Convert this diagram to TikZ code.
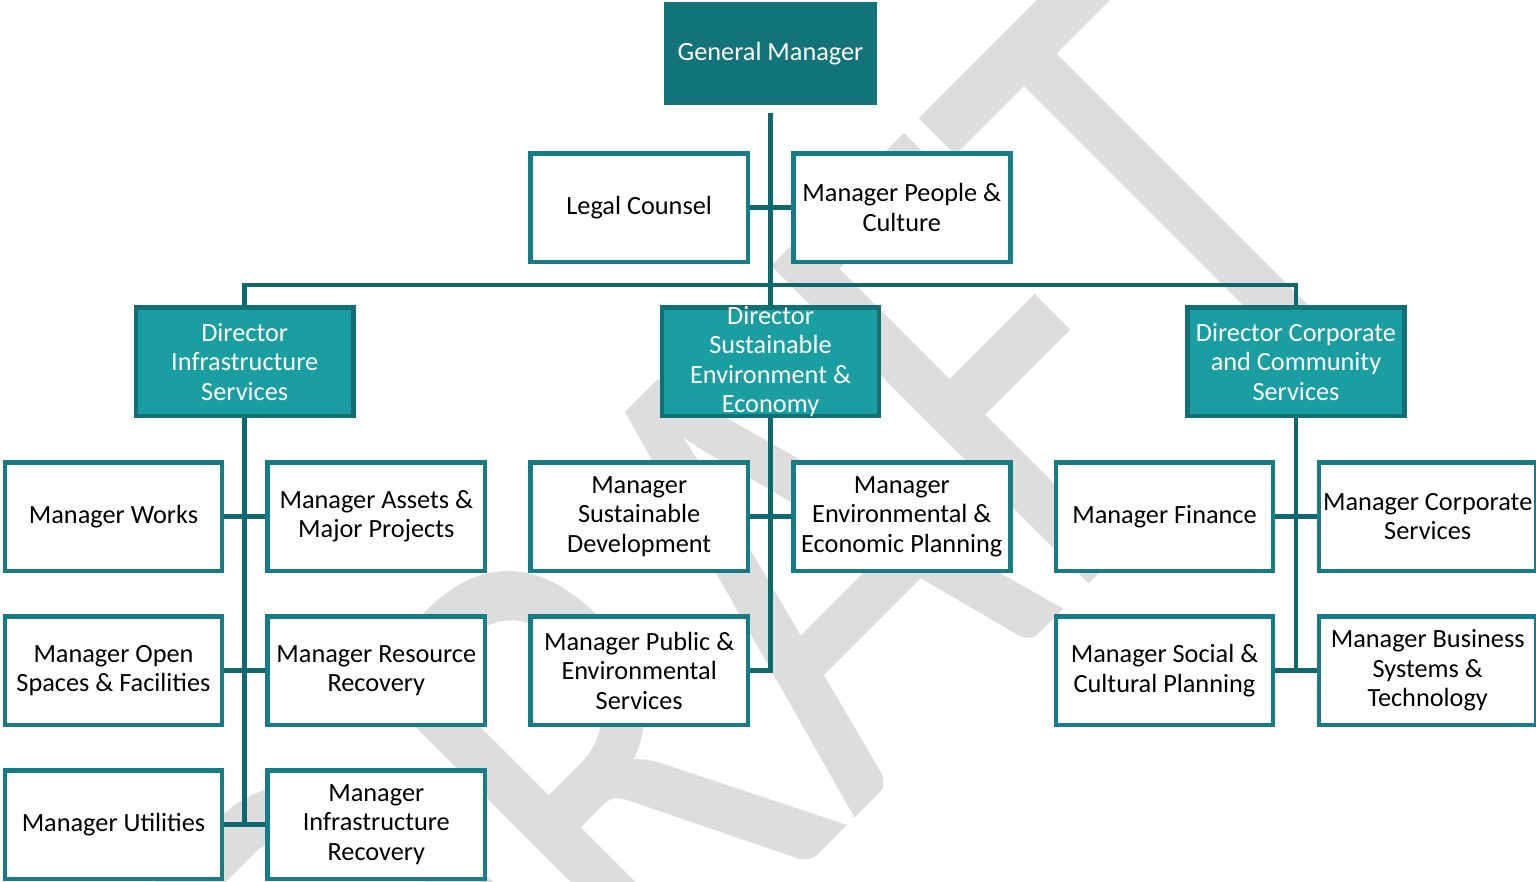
\documentclass[tikz,border=0pt]{standalone}
\usepackage{fontspec}
\setmainfont{Carlito}
\usetikzlibrary{backgrounds}
\definecolor{gmfill}{HTML}{12737B}
\definecolor{dirfill}{HTML}{1A9EA2}
\definecolor{dirline}{HTML}{117076}
\definecolor{mgrline}{HTML}{167C85}
\definecolor{connline}{HTML}{0E6870}
\definecolor{wmgray}{HTML}{DDDDDD}
\begin{document}
\begin{tikzpicture}[x=0.5pt,y=-0.5pt,
  box/.style={rectangle, minimum width=108.6pt, minimum height=54.3pt, inner sep=0pt,
    align=center, font=\fontsize{13.15}{14.75}\selectfont, line width=2.3pt},
  mgr/.style={box, draw=mgrline, fill=white, text=black},
  dir/.style={box, draw=dirline, fill=dirfill, text=white},
  dirtext/.style={inner sep=0pt, align=center, font=\fontsize{13.15}{14.75}\selectfont, text=white},
  gmbox/.style={box, fill=gmfill, text=white, minimum width=106.2pt, minimum height=51.65pt},
  conn/.style={draw=connline, line width=2.3pt, line join=miter}]
\useasboundingbox (0,0) rectangle (1536,882);

% top
\node[gmbox] (gm) at (770.5,53.3) {General Manager};
\node[mgr] (legal) at (639.2,207.7) {Legal Counsel};
\node[mgr] (people) at (901.8,207.7) {Manager People \&\\Culture};

% directors
\node[dir] (dinf) at (244.7,361.7) {Director\\Infrastructure\\Services};
\node[dir] (dsus) at (770.5,361.7) {};
\node[dirtext] (dsustxt) at (dsus.center) {Director\\Sustainable\\Environment \&\\Economy};
\node[dir] (dcor) at (1296,361.7) {Director Corporate\\and Community\\Services};

% infrastructure managers
\node[mgr] (works) at (113.5,516.5) {Manager Works};
\node[mgr] (assets) at (376.3,516.5) {Manager Assets \&\\Major Projects};
\node[mgr] (open) at (113.5,670.5) {Manager Open\\Spaces \& Facilities};
\node[mgr] (resource) at (376.3,670.5) {Manager Resource\\Recovery};
\node[mgr] (util) at (113.5,824.5) {Manager Utilities};
\node[mgr] (infrec) at (376.3,824.5) {Manager\\Infrastructure\\Recovery};

% sustainable managers
\node[mgr] (susdev) at (639.2,516.5) {Manager\\Sustainable\\Development};
\node[mgr] (envplan) at (901.8,516.5) {Manager\\Environmental \&\\Economic Planning};
\node[mgr] (public) at (639.2,670.5) {Manager Public \&\\Environmental\\Services};

% corporate managers
\node[mgr] (finance) at (1164.5,516.5) {Manager Finance};
\node[mgr] (corpserv) at (1427.7,516.5) {Manager Corporate\\Services};
\node[mgr] (social) at (1164.5,670.5) {Manager Social \&\\Cultural Planning};
\node[mgr] (business) at (1427.7,670.5) {Manager Business\\Systems \&\\Technology};

\begin{pgfonlayer}{background}
  % watermark
  \node[anchor=base west, inner sep=0pt, text=wmgray, font=\fontsize{100}{100}\selectfont,
        rotate=45, xscale=2.585, yscale=3.5] (wm) at (429,1244) {DRAFT};
  % connectors
  \coordinate (bar) at (770.5,285);
  \draw[conn] ([yshift=-2.85pt]gm.south) -- (dsus.north);
  \draw[conn] (legal.east) -- (people.west);
  \draw[conn] (dinf.north) |- (bar) -| (dcor.north);
  % infrastructure
  \draw[conn] (dinf.south) |- (util.east);
  \draw[conn] (works.east) -- (assets.west);
  \draw[conn] (open.east) -- (resource.west);
  \draw[conn] (util.east) -- (infrec.west);
  % sustainable
  \draw[conn] (dsus.south) |- (public.east);
  \draw[conn] (susdev.east) -- (envplan.west);
  % corporate
  \draw[conn] (dcor.south) -- (dcor.south |- social.east);
  \draw[conn] (finance.east) -- (corpserv.west);
  \draw[conn] (social.east) -- (business.west);
\end{pgfonlayer}
\end{tikzpicture}
\end{document}
